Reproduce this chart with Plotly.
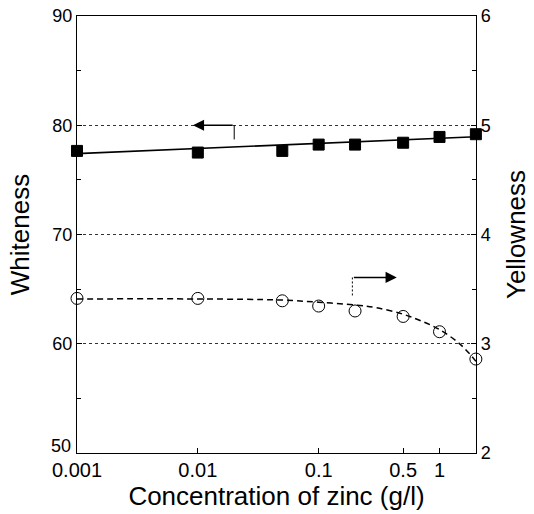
import numpy as np
import plotly.graph_objects as go

# ---- data ----
zinc = [0.001, 0.01, 0.05, 0.1, 0.2, 0.5, 1, 2]
whiteness = [77.65, 77.5, 77.65, 78.23, 78.23, 78.4, 78.93, 79.18]
yellowness = [3.415, 3.415, 3.393, 3.345, 3.30, 3.25, 3.11, 2.86]

whiteness_fit_x = [0.001, 2]
whiteness_fit = [77.4, 78.95]

yellow_curve_x = [0.001, 0.01, 0.05, 0.1, 0.2, 0.3, 0.5, 0.7, 1, 1.5, 2]
yellow_curve = [3.41, 3.41, 3.40, 3.38, 3.355, 3.33, 3.27, 3.21, 3.13, 2.99, 2.84]

x_ticks = [0.001, 0.01, 0.1, 0.5, 1]
x_ticktext = ["0.001", "0.01", "0.1", "0.5", "1"]
y1_ticks = [50, 60, 70, 80, 90]
y1_ticktext = ["", "60", "70", "80", "90"]   # "50" is drawn a little higher, as in the source
y1_minor = [55, 65, 75, 85]
y2_ticks = [2, 3, 4, 5, 6]
y2_minor = [2.5, 3.5, 4.5, 5.5]

# arrow indicators (which axis each series belongs to)
left_arrow = dict(tail_x=0.02, tip_x=0.0091, y=80, drop=78.7)
right_arrow = dict(tail_x=0.19, tip_x=0.443, y=3.607, drop=3.43)

FONT = "Liberation Sans, Arial, Helvetica, sans-serif"

fig = go.Figure()

fig.add_trace(go.Scatter(x=whiteness_fit_x, y=whiteness_fit, mode="lines",
                         line=dict(color="black", width=1.6), yaxis="y",
                         showlegend=False, hoverinfo="skip"))
fig.add_trace(go.Scatter(x=zinc, y=whiteness, mode="markers",
                         marker=dict(symbol="square", size=11, color="black",
                                     line=dict(color="black", width=1)),
                         yaxis="y", showlegend=False, cliponaxis=False))
fig.add_trace(go.Scatter(x=yellow_curve_x, y=yellow_curve, mode="lines",
                         line=dict(color="black", width=1.5, dash="6px,4px", shape="spline"),
                         yaxis="y2", showlegend=False, hoverinfo="skip", cliponaxis=False))
fig.add_trace(go.Scatter(x=zinc, y=yellowness, mode="markers",
                         marker=dict(symbol="circle-open", size=12, color="black",
                                     line=dict(color="black", width=1)),
                         yaxis="y2", showlegend=False, cliponaxis=False))

# vertical stems of the arrows
fig.add_trace(go.Scatter(x=[left_arrow["tail_x"]] * 2, y=[left_arrow["y"], left_arrow["drop"]],
                         mode="lines", line=dict(color="black", width=1),
                         yaxis="y", showlegend=False, hoverinfo="skip"))
fig.add_trace(go.Scatter(x=[right_arrow["tail_x"]] * 2, y=[right_arrow["y"], right_arrow["drop"]],
                         mode="lines", line=dict(color="black", width=1, dash="2px,2px"),
                         yaxis="y2", showlegend=False, hoverinfo="skip"))

fig.add_annotation(x=np.log10(left_arrow["tip_x"]), y=left_arrow["y"],
                   ax=np.log10(left_arrow["tail_x"]), ay=left_arrow["y"],
                   xref="x", yref="y", axref="x", ayref="y", text="",
                   showarrow=True, arrowhead=2, arrowsize=1.6, arrowwidth=1.4,
                   arrowcolor="black")
fig.add_annotation(x=np.log10(right_arrow["tip_x"]), y=right_arrow["y"],
                   ax=np.log10(right_arrow["tail_x"]), ay=right_arrow["y"],
                   xref="x", yref="y2", axref="x", ayref="y2", text="",
                   showarrow=True, arrowhead=2, arrowsize=1.6, arrowwidth=1.4,
                   arrowcolor="black")
# the "50" label, raised slightly above the bottom axis as in the source
fig.add_annotation(x=0, xref="paper", y=y1_ticks[0], yref="y", text="50",
                   showarrow=False, xanchor="right", yanchor="middle",
                   xshift=-4, yshift=7, font=dict(size=18, family=FONT))

fig.update_layout(
    width=534, height=514,
    margin=dict(l=77, r=58, t=16, b=61),
    paper_bgcolor="white", plot_bgcolor="white",
    font=dict(family=FONT, color="black", size=18),
    xaxis=dict(type="log", range=[-3, 0.302], tickvals=x_ticks, ticktext=x_ticktext,
               ticks="inside", ticklen=5, tickcolor="black", automargin=False,
               showline=True, linecolor="black", linewidth=1.2, mirror=True,
               showgrid=False, zeroline=False, ticklabelstandoff=-1,
               tickfont=dict(size=20, family=FONT),
               title=dict(text="Concentration of zinc (g/l)", font=dict(size=26, family=FONT),
                          standoff=0)),
    yaxis=dict(range=[50, 90], tickvals=y1_ticks, ticktext=y1_ticktext,
               ticks="inside", ticklen=5,
               tickcolor="black", showline=True, linecolor="black", linewidth=1.2,
               showgrid=True, gridcolor="#333", griddash="dot", gridwidth=1,
               zeroline=False, tickfont=dict(size=18, family=FONT), automargin=False,
               minor=dict(tickvals=y1_minor, ticks="inside", ticklen=4, tickcolor="black",
                          showgrid=False),
               title=dict(text="Whiteness", font=dict(size=26, family=FONT), standoff=15)),
    yaxis2=dict(range=[2, 6], tickvals=y2_ticks, overlaying="y", side="right",
                ticks="inside", ticklen=5, tickcolor="black", showline=True,
                linecolor="black", linewidth=1.2, showgrid=False, zeroline=False,
                tickfont=dict(size=18, family=FONT), automargin=False,
                minor=dict(tickvals=y2_minor, ticks="inside", ticklen=4, tickcolor="black"),
                title=dict(text="Yellowness", font=dict(size=26, family=FONT), standoff=17)),
)

# remove the browser's default 8px body margin so the figure fills the window exactly
fig.write_html("out.html", config={"displayModeBar": False},
               post_script="document.body.style.margin='0';")
